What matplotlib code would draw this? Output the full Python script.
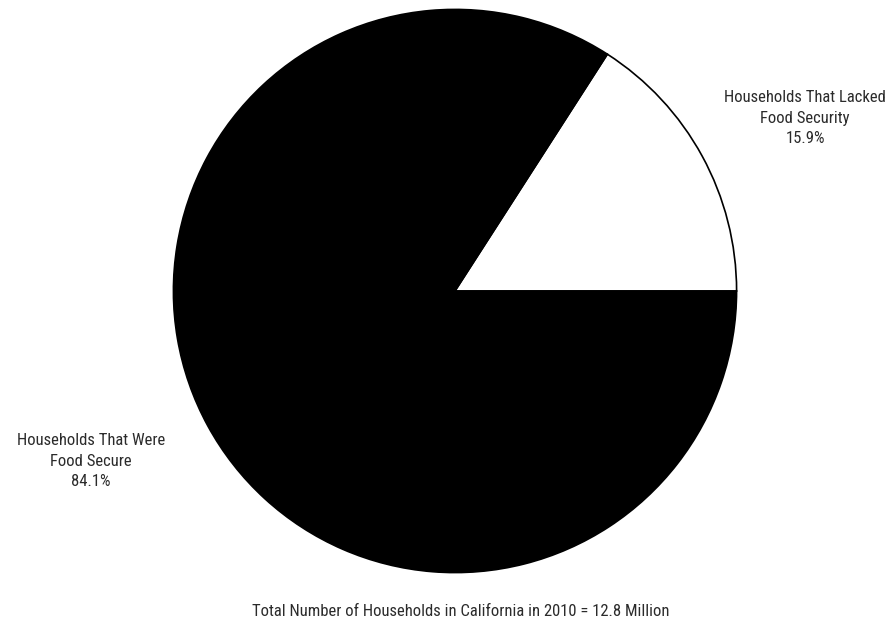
import matplotlib
matplotlib.use("Agg")
import matplotlib.pyplot as plt

# food security shares, California 2010
categories = ["Households That Lacked\nFood Security", "Households That Were\nFood Secure"]
shares = [15.9, 84.1]
colors = ["white", "black"]
note = "Total Number of Households in California in 2010 = 12.8 Million"

plt.rcParams['font.family'] = ['Roboto Condensed', 'DejaVu Sans']

fig = plt.figure(figsize=(8.96, 6.39), dpi=100)
W, H = 896, 639
cx, cy, r = 455, 291, 283
ax = fig.add_axes([(cx - r) / W, (H - cy - r) / H, 2 * r / W, 2 * r / H])
ax.pie(shares, colors=colors, startangle=0, counterclock=True,
       wedgeprops=dict(edgecolor="black", linewidth=1.2))
ax.set_xlim(-1.005, 1.005)
ax.set_ylim(-1.005, 1.005)
ax.set_aspect("equal")
ax.axis("off")

tc = "#2b2b2b"
fs = 12
fig.text(805 / W, 1 - 118 / H, categories[0] + "\n" + f"{shares[0]}%",
         ha="center", va="center", fontsize=fs, color=tc, linespacing=1.45)
fig.text(91 / W, 1 - 461 / H, categories[1] + "\n" + f"{shares[1]}%",
         ha="center", va="center", fontsize=fs, color=tc, linespacing=1.45)
fig.text(461 / W, 1 - 611 / H, note, ha="center", va="center",
         fontsize=fs, color=tc)

fig.savefig("out.png", dpi=100)
